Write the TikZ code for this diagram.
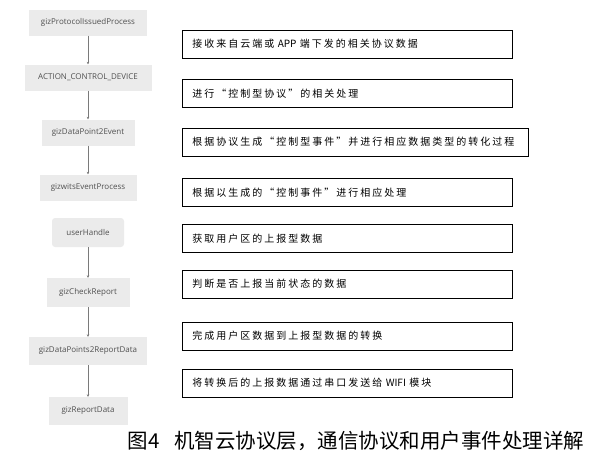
\documentclass[tikz,border=0pt]{standalone}
\usepackage{fontspec}
\usepackage{xcolor}
\usepackage{tikz}
\usetikzlibrary{arrows.meta}
\setsansfont{Open Sans}
\newfontfamily\cjkfont[LetterSpace=20]{Noto Sans CJK SC}
\newfontfamily\capfont{Noto Sans CJK SC}
\definecolor{GizBox}{HTML}{EBEBEB}
\definecolor{GizText}{HTML}{505050}
\definecolor{GizLine}{HTML}{7A7A7A}

\begin{document}
\begin{tikzpicture}[x=1pt,y=-1pt,
  func/.style={fill=GizBox,text=GizText,font=\sffamily\fontsize{8}{9.5}\selectfont,inner sep=0pt,minimum height=26pt},
  note/.style={draw=black,line width=0.9pt,fill=white,anchor=west,align=left,inner xsep=10pt,inner ysep=0pt,minimum height=28pt,text width=310pt,font=\cjkfont\fontsize{10}{12}\selectfont},
  flow/.style={GizLine,line width=0.6pt,-{Stealth[length=2.5pt,width=2.5pt]}}]
\path[use as bounding box] (0,0) rectangle (595,467);
\node[func,minimum width=118pt] (p1) at (88,22.5) {gizProtocolIssuedProcess};
\node[func,minimum width=127pt] (p2) at (88,77.5) {ACTION\_CONTROL\_DEVICE};
\node[func,minimum width=93pt] (p3) at (88,132.5) {gizDataPoint2Event};
\node[func,minimum width=97pt] (p4) at (88,187.5) {gizwitsEventProcess};
\node[func,minimum width=72pt,minimum height=29pt,rounded corners=3pt] (p5) at (88,232.5) {userHandle};
\node[func,minimum width=83pt,minimum height=29pt] (p6) at (88,292.5) {gizCheckReport};
\node[func,minimum width=118pt,minimum height=28pt] (p7) at (88,351) {gizDataPoints2ReportData};
\node[func,minimum width=79pt,minimum height=28pt] (p8) at (88,411) {gizReportData};
\draw[flow] (p1) -- (p2);
\draw[flow] (p2) -- (p3);
\draw[flow] (p3) -- (p4);
\draw[flow] (p5) -- (p6);
\draw[flow] (p6) -- (p7);
\draw[flow] (p7) -- (p8);
\node[note] (n1) at (182,44) {接收来自云端或 {\capfont APP} 端下发的相关协议数据};
\node[note] (n2) at (182,93.5) {进行“控制型协议”的相关处理};
\node[note,text width=326pt] (n3) at (182,142) {根据协议生成“控制型事件”并进行相应数据类型的转化过程};
\node[note] (n4) at (182,192.5) {根据以生成的“控制事件”进行相应处理};
\node[note] (n5) at (182,238.5) {获取用户区的上报型数据};
\node[note] (n6) at (182,284) {判断是否上报当前状态的数据};
\node[note] (n7) at (182,336) {完成用户区数据到上报型数据的转换};
\node[note] (n8) at (182,383) {将转换后的上报数据通过串口发送给 {\capfont WIFI} 模块};
\node[font=\capfont\fontsize{20.5}{24}\selectfont] (cap) at (356,441) {图4\hspace{0.7em}机智云协议层，通信协议和用户事件处理详解};
\end{tikzpicture}
\end{document}
